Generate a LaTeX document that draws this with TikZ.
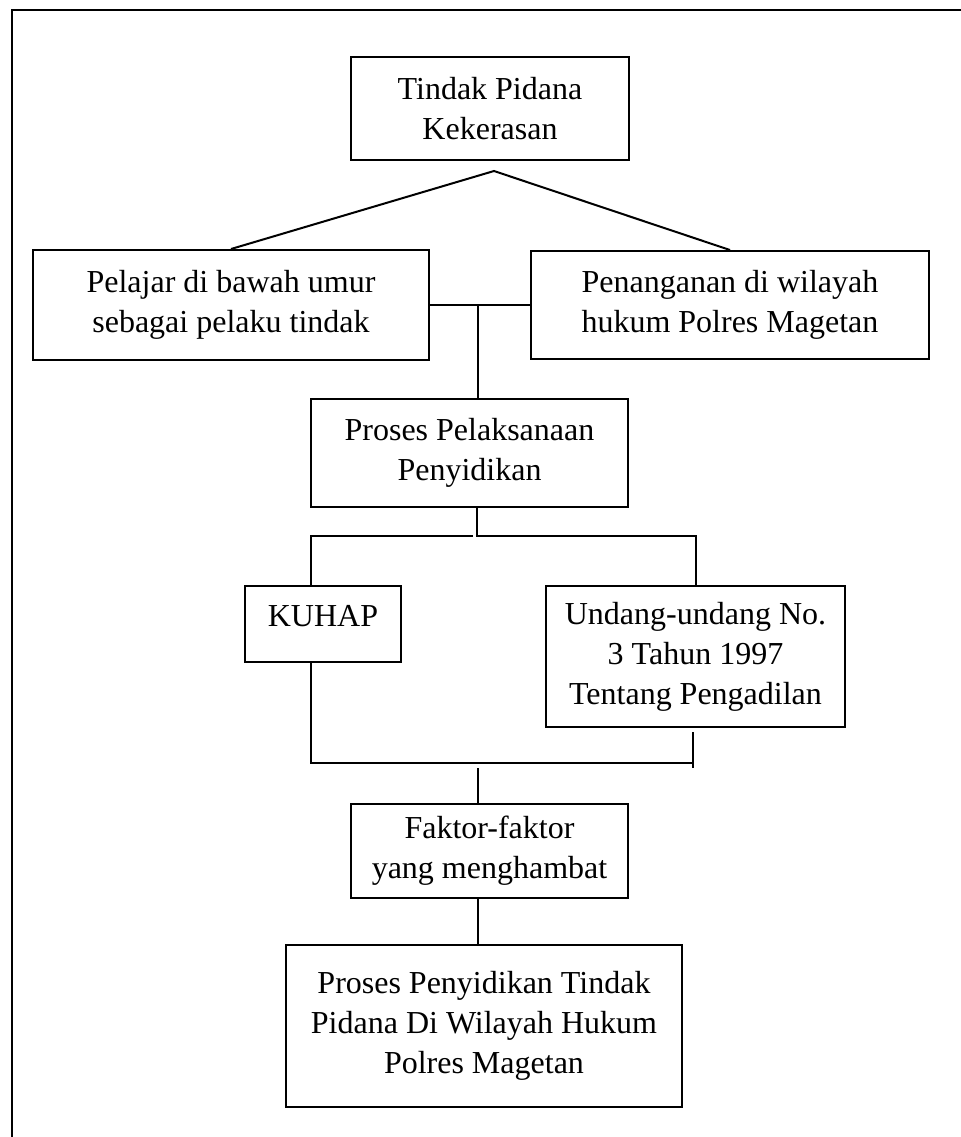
\documentclass[tikz,border=0pt]{standalone}
\usepackage{fontspec}
\setmainfont{Liberation Serif}
\usetikzlibrary{positioning}
\tikzset{
  alurbox/.style={draw,line width=1pt,inner sep=4pt,align=center,font=\fontsize{16}{20}\selectfont},
  alurline/.style={line width=1pt},
}

\begin{document}
\begin{tikzpicture}[x=0.5pt,y=-0.5pt]
\useasboundingbox (0,0) rectangle (961,1137);
\draw[alurline] (961,10) -- (12,10) -- (12,1137);
\node[alurbox,minimum width=139pt,minimum height=51.5pt] (tp) at (490,108.5) {Tindak Pidana\\Kekerasan};
\node[alurbox,minimum width=198pt,minimum height=55pt] (pl) at (231,305) {Pelajar di bawah umur\\sebagai pelaku tindak};
\node[alurbox,minimum width=199pt,minimum height=54pt] (pn) at (730,305) {Penanganan di wilayah\\hukum Polres Magetan};
\node[alurbox,minimum width=158.5pt,minimum height=54pt] (pp) at (469.5,453) {Proses Pelaksanaan\\Penyidikan};
\node[alurbox,minimum width=78pt,text height=16.4pt,text depth=14pt] (kh) at (323,624) {KUHAP};
\node[alurbox,minimum width=149.5pt,minimum height=70.5pt] (ud) at (695.5,656.5) {Undang-undang No.\\3 Tahun 1997\\Tentang Pengadilan};
\node[alurbox,minimum width=138.5pt,minimum height=47pt] (fk) at (489.5,851) {Faktor-faktor\\yang menghambat};
\node[alurbox,minimum width=198pt,minimum height=81pt] (pa) at (484,1026) {Proses Penyidikan Tindak\\Pidana Di Wilayah Hukum\\Polres Magetan};
% garis penghubung
\coordinate (puncak) at (494,171);
\draw[alurline] (pl.north) -- (puncak) -- (pn.north);
\draw[alurline] (pl.east) -- (pn.west);
\coordinate (j1) at (478,305);
\draw[alurline] (j1) -- (j1 |- pp.north);
\coordinate (j2) at (477,536);
\coordinate (j2a) at (473,536);
\coordinate (kiri) at (311,536);
\draw[alurline] (j2 |- pp.south) -- (j2) -- (j2 -| ud.north) -- (ud.north);
\draw[alurline] (j2a) -- (kiri) -- (kiri |- kh.north);
\coordinate (k2) at (311,763);
\coordinate (k3a) at (693,732);
\coordinate (k3b) at (693,768);
\draw[alurline] (k2 |- kh.south) -- (k2) -- (k2 -| k3a);
\draw[alurline] (k3a) -- (k3b);
\coordinate (j3) at (478,768);
\draw[alurline] (j3) -- (j3 |- fk.north);
\draw[alurline] (j3 |- fk.south) -- (j3 |- pa.north);
\end{tikzpicture}
\end{document}
